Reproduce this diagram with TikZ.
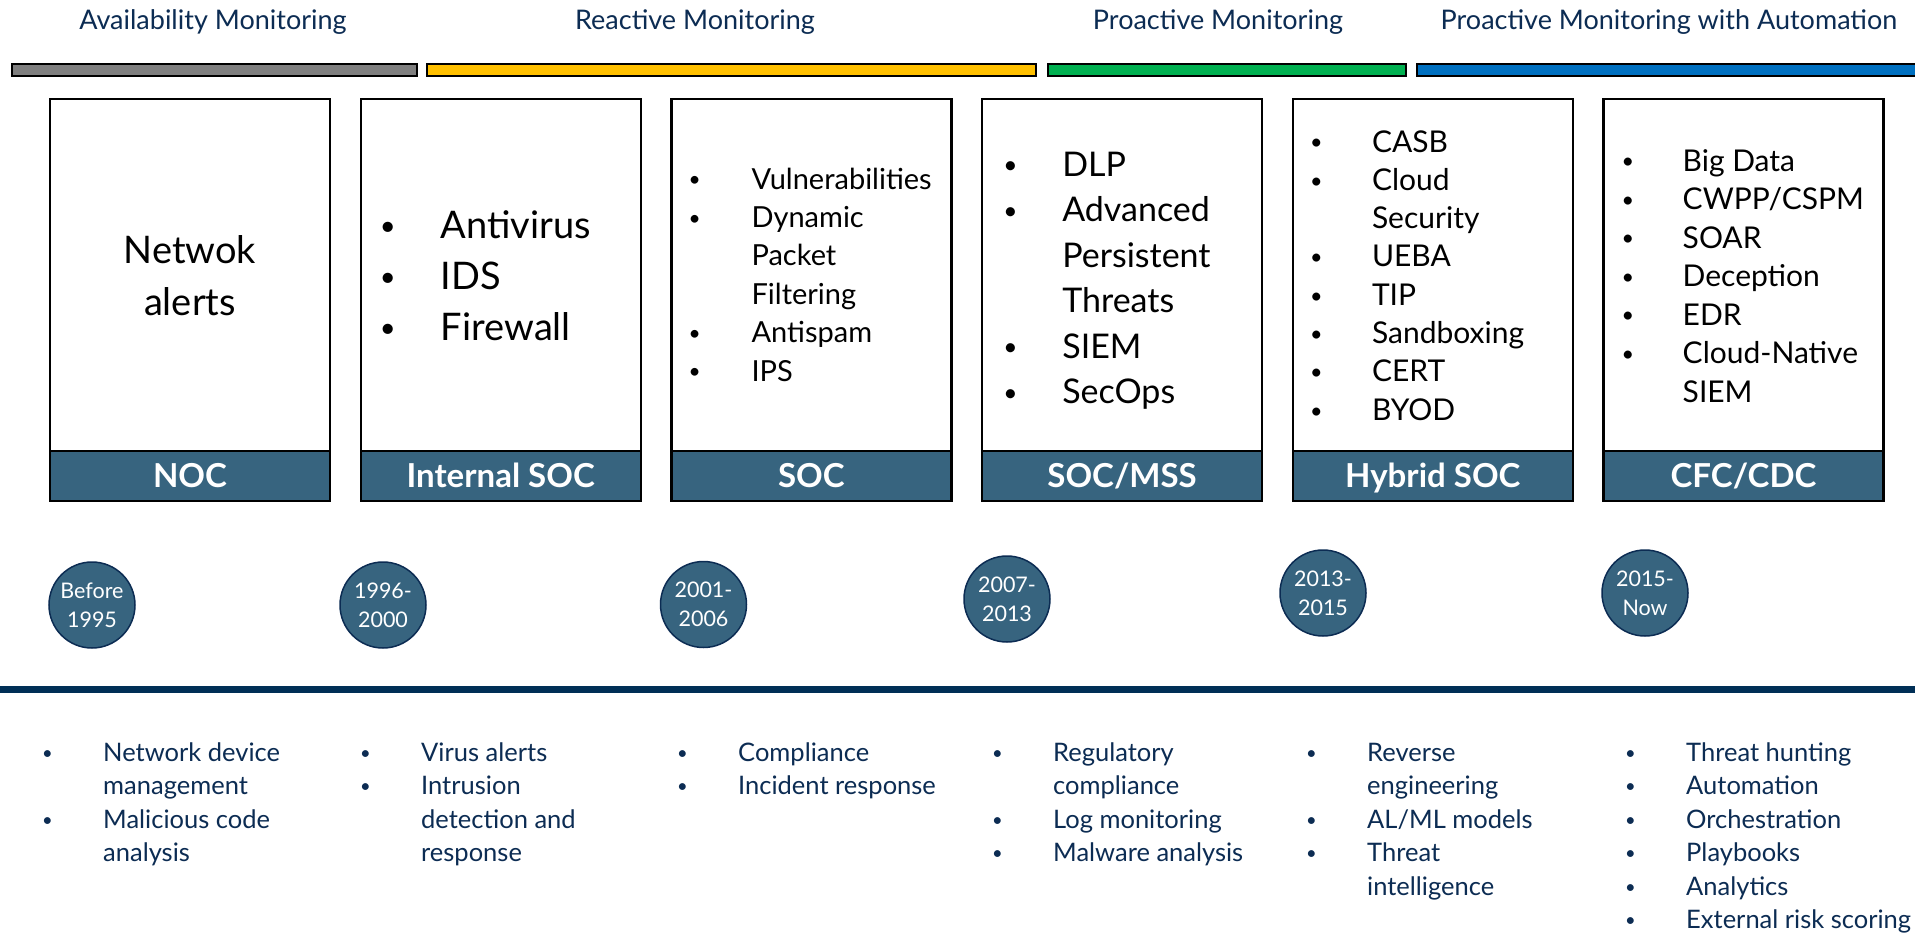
\documentclass[tikz,border=0pt]{standalone}
\usepackage{fontspec}
\setmainfont{Lato}
\usepackage{tikz}
\usetikzlibrary{positioning}

\definecolor{socblue}{HTML}{37647F}
\definecolor{navy}{HTML}{0C2C53}
\definecolor{lineblue}{HTML}{002F56}
\definecolor{barGray}{HTML}{7F7F7F}
\definecolor{barYellow}{HTML}{FFC000}
\definecolor{barGreen}{HTML}{00B050}
\definecolor{barBlue}{HTML}{0070C0}

% bullet list: bullet column, then the item text
\newcommand{\blist}[2][61pt]{\begin{tabular}[t]{@{}p{#1}@{}l@{}}#2\end{tabular}}
\newcommand{\itm}{\raisebox{0.07em}{\scalebox{0.72}{\textbullet}} &}

\begin{document}
\begin{tikzpicture}[
  x=1pt, y=-1pt,
  node distance=30.7pt,
  panel/.style={draw,line width=2.4pt,minimum width=280pt,minimum height=402pt,inner sep=0pt,outer sep=0pt},
  band/.style={draw,line width=2.4pt,fill=socblue,minimum width=280pt,minimum height=50pt,inner sep=0pt,outer sep=0pt,
    text=white,font=\fontsize{33}{38}\selectfont\bfseries,text height=23pt,text depth=0pt},
  era/.style={circle,draw=navy,line width=1.5pt,fill=socblue,minimum size=86pt,inner sep=0pt,
    text=white,align=center,font=\fontsize{21.5}{29}\selectfont},
  phase/.style={text=navy,anchor=base,inner sep=0pt,font=\fontsize{27}{32}\selectfont},
  tech/.style={anchor=base west,inner sep=0pt},
  duty/.style={anchor=base west,inner sep=0pt,text=navy,font=\fontsize{25.5}{33.5}\selectfont},
  bar/.style={draw=black,line width=2pt}
]
\useasboundingbox[fill=white] (0,0) rectangle (1915,937);

% monitoring phases
\node[phase] (avail)  at (213,29)  {Availability Monitoring};
\node[phase] (react)  at (695,29)  {Reactive Monitoring};
\node[phase] (proact) at (1218,29) {Proactive Monitoring};
\node[phase] (auto)   at (1669,29) {Proactive Monitoring with Automation};

\draw[bar,fill=barGray]   (12,64)   rectangle (417,76);
\draw[bar,fill=barYellow] (427,64)  rectangle (1036,76);
\draw[bar,fill=barGreen]  (1048,64) rectangle (1406,76);
\draw[bar,fill=barBlue]   (1417,64) rectangle (1940,76);

% one panel per operations centre
\node[panel] (noc) at (190,300) {};
\node[panel,right=of noc]    (isoc)   {};
\node[panel,right=of isoc]   (soc)    {};
\node[panel,right=of soc]    (mss)    {};
\node[panel,right=of mss]    (hybrid) {};
\node[panel,right=of hybrid] (cfc)    {};

\node[band,anchor=south] (nocband)    at (noc.south)    {NOC};
\node[band,anchor=south] (isocband)   at (isoc.south)   {Internal SOC};
\node[band,anchor=south] (socband)    at (soc.south)    {SOC};
\node[band,anchor=south] (mssband)    at (mss.south)    {SOC/MSS};
\node[band,anchor=south] (hybridband) at (hybrid.south) {Hybrid SOC};
\node[band,anchor=south] (cfcband)    at (cfc.south)    {CFC/CDC};

\node[tech,anchor=base,font=\fontsize{38}{52}\selectfont] (noctext) at ([shift={(0,164)}]noc.north)
  {\begin{tabular}[t]{@{}c@{}}Netwok\\alerts\end{tabular}};
\node[tech,font=\fontsize{38}{51}\selectfont] (isoctext) at ([shift={(19,139)}]isoc.north west)
  {\blist[61pt]{\itm Antivirus\\ \itm IDS\\ \itm Firewall}};
\node[tech,font=\fontsize{29}{38.4}\selectfont] (soctext) at ([shift={(17,90)}]soc.north west)
  {\blist[63pt]{\itm Vulnerabilities\\ \itm Dynamic\\ & Packet\\ & Filtering\\ \itm Antispam\\ \itm IPS}};
\node[tech,font=\fontsize{34}{45.5}\selectfont] (msstext) at ([shift={(21,77)}]mss.north west)
  {\blist[59pt]{\itm DLP\\ \itm Advanced\\ & Persistent\\ & Threats\\ \itm SIEM\\ \itm SecOps}};
\node[tech,font=\fontsize{30}{38.3}\selectfont] (hybridtext) at ([shift={(17,53)}]hybrid.north west)
  {\blist[62pt]{\itm CASB\\ \itm Cloud\\ & Security\\ \itm UEBA\\ \itm TIP\\ \itm Sandboxing\\ \itm CERT\\ \itm BYOD}};
\node[tech,font=\fontsize{30}{38.5}\selectfont] (cfctext) at ([shift={(18,72)}]cfc.north west)
  {\blist{\itm Big Data\\ \itm CWPP/CSPM\\ \itm SOAR\\ \itm Deception\\ \itm EDR\\ \itm Cloud-Native\\ & SIEM}};

% time periods
\node[era] (y1) at (92,605)     {Before\\1995};
\node[era] (y2) at (383,605)    {1996-\\2000};
\node[era] (y3) at (703.5,604.5){2001-\\2006};
\node[era] (y4) at (1007,599)   {2007-\\2013};
\node[era] (y5) at (1323,593)   {2013-\\2015};
\node[era] (y6) at (1645,593)   {2015-\\Now};

\fill[lineblue] (0,686) rectangle (1915,693);

% capabilities under the timeline
\node[duty] (nocduty) at (42,761)
  {\blist{\itm Network device\\ & management\\ \itm Malicious code\\ & analysis}};
\node[duty] (isocduty) at (360,761)
  {\blist{\itm Virus alerts\\ \itm Intrusion\\ & detection and\\ & response}};
\node[duty] (socduty) at (677,761)
  {\blist{\itm Compliance\\ \itm Incident response}};
\node[duty] (mssduty) at (992,761)
  {\blist{\itm Regulatory\\ & compliance\\ \itm Log monitoring\\ \itm Malware analysis}};
\node[duty] (hybridduty) at (1306,761)
  {\blist{\itm Reverse\\ & engineering\\ \itm AL/ML models\\ \itm Threat\\ & intelligence}};
\node[duty] (cfcduty) at (1625,761)
  {\blist{\itm Threat hunting\\ \itm Automation\\ \itm Orchestration\\ \itm Playbooks\\ \itm Analytics\\ \itm External risk scoring}};
\end{tikzpicture}
\end{document}
